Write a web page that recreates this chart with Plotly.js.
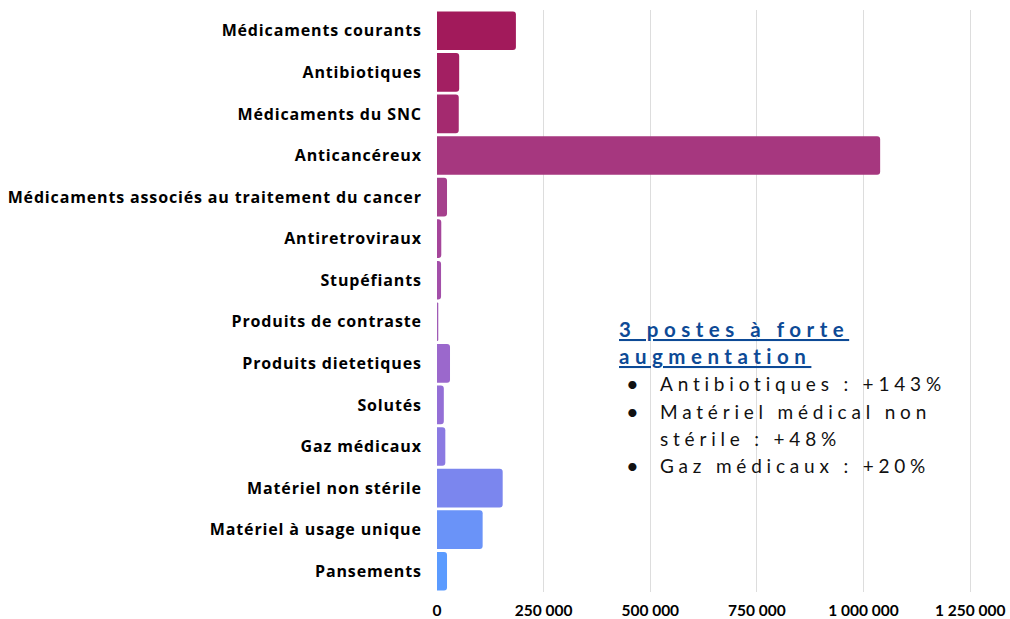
<!DOCTYPE html>
<html>
<head>
<meta charset="utf-8">
<script src="https://cdn.plot.ly/plotly-3.0.1.min.js"></script>
<style>
  body { margin: 0; background: #fff; }
  #chart { width: 1010px; height: 619px; }
</style>
</head>
<body>
<div id="chart"></div>
<script>
// categories, top to bottom
const categories = [
    'Médicaments courants',
    'Antibiotiques',
    'Médicaments du SNC',
    'Anticancéreux',
    'Médicaments associés au traitement du cancer',
    'Antiretroviraux',
    'Stupéfiants',
    'Produits de contraste',
    'Produits dietetiques',
    'Solutés',
    'Gaz médicaux',
    'Matériel non stérile',
    'Matériel à usage unique',
    'Pansements'
];

const values = [185000, 52000, 51000, 1039000, 23500, 10000, 9500, 3000, 30500, 16000, 19500, 154000, 107000, 23500];

const barColors = [
    '#a21a5b', '#a31f62', '#a42a6f', '#a6377f', '#a5408c', '#a5459a', '#a34fa9',
    '#a05bb6', '#9b68cc', '#946fd6', '#8b7ae2', '#7b86ee', '#6a93f8', '#5b9bff'
];

const tickVals = [0, 250000, 500000, 750000, 1000000, 1250000];
const tickText = ['0', '250 000', '500 000', '750 000', '1 000 000', '1 250 000'];

const noteTitle = ['3 postes à forte', 'augmentation'];
const noteLines = ['Antibiotiques : +143%', 'Matériel médical non', 'stérile : +48%', 'Gaz médicaux : +20%'];
const noteBullets = [true, true, false, true];

const trace = {
    type: 'bar',
    orientation: 'h',
    y: categories,
    x: values,
    marker: { color: barColors, line: { width: 0 } },
    hoverinfo: 'x+y'
};

// pixel -> paper helpers (plot area is 437..1000 by 10..592)
const px2x = px => (px - 437) / 563;
const px2y = py => (592 - py) / 582;

const annotations = [];
noteTitle.forEach((t, i) => {
    annotations.push({
        xref: 'paper', yref: 'paper',
        x: px2x(617), y: px2y(329 + i * 27),
        xanchor: 'left', yanchor: 'middle',
        text: '<u><b>' + t + '</b></u>',
        showarrow: false,
        font: { family: 'Lato, sans-serif', size: 20.5, color: '#0d4a96' }
    });
});
noteLines.forEach((t, i) => {
    const py = 384 + i * 27.3;
    annotations.push({
        xref: 'paper', yref: 'paper',
        x: px2x(658), y: px2y(py),
        xanchor: 'left', yanchor: 'middle',
        text: t,
        showarrow: false,
        font: { family: 'Lato, sans-serif', size: 19, color: '#111' }
    });
    if (noteBullets[i]) {
        annotations.push({
            xref: 'paper', yref: 'paper',
            x: px2x(632), y: px2y(py),
            xanchor: 'center', yanchor: 'middle',
            text: '•',
            showarrow: false,
            font: { family: 'Lato, sans-serif', size: 22, color: '#111' }
        });
    }
});

const layout = {
    width: 1010,
    height: 619,
    margin: { l: 437, r: 10, t: 10, b: 27 },
    paper_bgcolor: '#ffffff',
    plot_bgcolor: '#ffffff',
    showlegend: false,
    bargap: 0.07,
    barcornerradius: 3,
    font: { family: 'Lato, sans-serif', color: '#000' },
    xaxis: {
        range: [0, 1320000],
        tickvals: tickVals,
        ticktext: tickText,
        showgrid: true,
        gridcolor: '#dddddd',
        gridwidth: 1,
        zeroline: false,
        showline: false,
        ticks: 'outside',
        ticklen: 4,
        tickcolor: 'rgba(0,0,0,0)',
        tickfont: { family: 'Lato, sans-serif', size: 15.5, color: '#000', weight: 'bold' }
    },
    yaxis: {
        autorange: 'reversed',
        showgrid: false,
        zeroline: false,
        showline: false,
        ticks: 'outside',
        ticklen: 11,
        tickcolor: 'rgba(0,0,0,0)',
        tickfont: { family: '"Open Sans", sans-serif', size: 16, color: '#000', weight: 'bold' }
    },
    annotations: annotations
};

// widen text like the reference's geometric font, keeping the left edge in place
const spaceOut = (el, spacing) => {
    const before = el.getBBox();
    el.style.letterSpacing = spacing + 'px';
    const after = el.getBBox();
    const dx = before.x - after.x;
    el.setAttribute('x', parseFloat(el.getAttribute('x') || 0) + dx);
};

Plotly.newPlot('chart', [trace], layout, { displayModeBar: false, staticPlot: true }).then(() => {
    document.querySelectorAll('.annotation-text').forEach(el => {
        const txt = el.textContent;
        if (txt === '•') return;
        const isTitle = txt.includes('postes') || txt.includes('augmentation');
        spaceOut(el, isTitle ? 5.5 : 4.8);
    });

    // y labels: longest label should span about 414px like the reference
    const labels = Array.from(document.querySelectorAll('.ytick text'));
    const longest = labels.reduce((a, b) => a.getComputedTextLength() > b.getComputedTextLength() ? a : b);
    const extra = Math.max(0, (414 - longest.getComputedTextLength()) / longest.textContent.length);
    labels.forEach(el => { el.style.letterSpacing = extra.toFixed(2) + 'px'; });
});
</script>
</body>
</html>
